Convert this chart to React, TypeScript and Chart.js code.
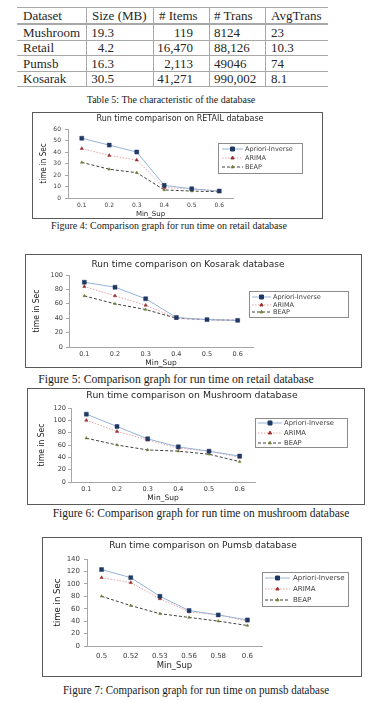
import React, { useEffect, useRef } from 'react';
import { Chart, registerables } from 'chart.js';
import { drawPoint } from 'chart.js/helpers';

Chart.register(...registerables);

// ---------- data ----------
const seriesNames = ['Apriori-Inverse', 'ARIMA', 'BEAP'];
const minSupLabels = ['0.1', '0.2', '0.3', '0.4', '0.5', '0.6'];
const pumsbLabels = ['0.5', '0.52', '0.53', '0.56', '0.58', '0.6'];

const retailApriori = [52, 46, 40, 11, 8, 6];
const retailArima = [43, 37, 33, 9, 8, 6];
const retailBeap = [31, 25, 22, 7, 6, 5.5];

const kosarakApriori = [90, 83, 67, 41, 38, 37];
const kosarakArima = [84, 71, 58, 40, 38, 37];
const kosarakBeap = [71, 60, 52, 40, 38, 37];

const mushroomApriori = [110, 90, 70, 57, 50, 42];
const mushroomArima = [100, 82, 68, 55, 50, 40];
const mushroomBeap = [71, 60, 52, 50, 45, 33];

const pumsbApriori = [123, 110, 80, 57, 50, 42];
const pumsbArima = [110, 102, 76, 55, 50, 40];
const pumsbBeap = [80, 65, 52, 46, 40, 33];

const tableHeader = ['Dataset', 'Size (MB)', '# Items', '# Trans', 'AvgTrans'];
const tableDatasets = ['Mushroom', 'Retail', 'Pumsb', 'Kosarak'];
const tableSizes = ['19.3', '4.2', '16.3', '30.5'];
const tableItems = ['119', '16,470', '2,113', '41,271'];
const tableTrans = ['8124', '88,126', '49046', '990,002'];
const tableAvg = ['23', '10.3', '74', '8.1'];

// ---------- styles ----------
const SANS = "'DejaVu Sans', 'Open Sans', sans-serif";
const NARROW = "'Liberation Sans Narrow', 'DejaVu Sans Condensed', 'Liberation Sans', sans-serif";
const SERIF = "'Liberation Serif', 'Times New Roman', serif";
const AXIS = '#a6a6a6';
const TICK = '#404040';

const seriesStyles = [
  { line: '#95b3d7', dash: [] as number[], point: 'rect', r: 2.8, pc: '#1f3864' },
  { line: '#e8a3a3', dash: [1.5, 1.5], point: 'triangle', r: 1.9, pc: '#9b2d2d' },
  { line: '#404040', dash: [3, 2], point: 'triangle', r: 1.6, pc: '#6b7d2a' },
];

type LegendCfg = { x: number; y: number; w: number; h: number; rows: number[]; size: number; lineStart: number; lineEnd: number; textX: number };
type ChartCfg = {
  box: number[];
  title: string;
  titleX: number;
  titleY: number;
  titleSize: number;
  plot: number[];
  labels: string[];
  series: number[][];
  yMax: number;
  yStep: number;
  tickSize: number;
  axisTitleSize: number;
  xLabelY: number;
  xTitleY: number;
  yLabelRight: number;
  yTitleX: number;
  legend: LegendCfg;
};

const charts: ChartCfg[] = [
  {
    box: [32, 112, 291, 107],
    title: 'Run time comparison on RETAIL database',
    titleX: 180, titleY: 119, titleSize: 8,
    plot: [68, 129, 233, 198],
    labels: minSupLabels,
    series: [retailApriori, retailArima, retailBeap],
    yMax: 60, yStep: 10,
    tickSize: 6, axisTitleSize: 7,
    xLabelY: 205, xTitleY: 214, yLabelRight: 61, yTitleX: 43,
    legend: { x: 218, y: 143, w: 84, h: 30, rows: [149, 158, 167], size: 6.5, lineStart: 4, lineEnd: 25, textX: 27 },
  },
  {
    box: [25, 254, 337, 114],
    title: 'Run time comparison on Kosarak database',
    titleX: 188, titleY: 265, titleSize: 9,
    plot: [69, 275, 253, 347],
    labels: minSupLabels,
    series: [kosarakApriori, kosarakArima, kosarakBeap],
    yMax: 100, yStep: 10,
    tickSize: 6.5, axisTitleSize: 7.5,
    xLabelY: 354, xTitleY: 363, yLabelRight: 63, yTitleX: 36,
    legend: { x: 249, y: 291, w: 99, h: 26, rows: [297, 305, 312], size: 6.5, lineStart: 3, lineEnd: 22, textX: 24 },
  },
  {
    box: [27, 388, 338, 117],
    title: 'Run time comparison on Mushroom database',
    titleX: 192, titleY: 396, titleSize: 9.3,
    plot: [71, 408, 255, 482],
    labels: minSupLabels,
    series: [mushroomApriori, mushroomArima, mushroomBeap],
    yMax: 120, yStep: 20,
    tickSize: 6.5, axisTitleSize: 7.5,
    xLabelY: 489, xTitleY: 498, yLabelRight: 66, yTitleX: 41,
    legend: { x: 255, y: 418, w: 92, h: 29, rows: [423, 433, 443], size: 6.8, lineStart: 3, lineEnd: 27, textX: 29 },
  },
  {
    box: [42, 537, 320, 140],
    title: 'Run time comparison on Pumsb database',
    titleX: 203, titleY: 546, titleSize: 9,
    plot: [87, 559, 262, 646],
    labels: pumsbLabels,
    series: [pumsbApriori, pumsbArima, pumsbBeap],
    yMax: 140, yStep: 20,
    tickSize: 7, axisTitleSize: 8.5,
    xLabelY: 656, xTitleY: 666, yLabelRight: 80, yTitleX: 57,
    legend: { x: 262, y: 572, w: 86, h: 34, rows: [578, 589, 600], size: 7, lineStart: 3, lineEnd: 28, textX: 31 },
  },
];

const captions = [
  { text: 'Table 5: The characteristic of the database', cx: 171, cy: 100, size: 10, sx: 1 },
  { text: 'Figure 4: Comparison graph for run time on retail database', cx: 169, cy: 226, size: 10, sx: 1 },
  { text: 'Figure 5: Comparison graph for run time on retail database', cx: 176, cy: 380, size: 11.7, sx: 1 },
  { text: 'Figure 6: Comparison graph for run time on mushroom database', cx: 201, cy: 513, size: 11.5, sx: 1 },
  { text: 'Figure 7: Comparison graph for run time on pumsb database', cx: 196, cy: 690, size: 12.5, sx: 0.88 },
];

function RunTimeChart({ cfg }: { cfg: ChartCfg }) {
  const ref = useRef<HTMLCanvasElement>(null);
  const [L, T, W, H] = cfg.box;
  const ox = L + 1;
  const oy = T + 1;
  const cw = W - 2;
  const ch = H - 2;

  useEffect(() => {
    const canvas = ref.current;
    if (!canvas) return;
    const [pl, pt, pr, pb] = cfg.plot;
    const plotL = pl - ox;
    const plotT = pt - oy;
    const plotR = pr - ox;
    const plotB = pb - oy;
    const d = cfg.titleX - ox - cw / 2;
    const padL = d > 0 ? 2 * d : 0;
    const padR = d < 0 ? -2 * d : 0;
    const tLh = cfg.titleSize * 1.2;
    const tTop = Math.max(0, cfg.titleY - oy - tLh / 2);
    const tBottom = Math.max(0, plotT - tTop - tLh);
    const tickLen = 3;
    const xTickPad = cfg.xLabelY - oy - plotB - cfg.tickSize * 0.6;
    const xTitlePadB = Math.max(0, ch - (cfg.xTitleY - oy) - cfg.axisTitleSize / 2);
    const yTitlePadT = Math.max(0, cfg.yTitleX - ox - padL - cfg.axisTitleSize / 2);
    const yTickPad = pl - cfg.yLabelRight - tickLen;
    const lg = cfg.legend;

    const legendPlugin = {
      id: 'boxLegend',
      afterDraw(chart: any) {
        const ctx = chart.ctx as CanvasRenderingContext2D;
        const x = lg.x - ox;
        const y = lg.y - oy;
        ctx.save();
        ctx.strokeStyle = '#8c8c8c';
        ctx.lineWidth = 1;
        ctx.setLineDash([]);
        ctx.strokeRect(Math.round(x) + 0.5, Math.round(y) + 0.5, lg.w, lg.h);
        chart.data.datasets.forEach((ds: any, i: number) => {
          const yy = lg.rows[i] - oy;
          ctx.beginPath();
          ctx.strokeStyle = ds.borderColor;
          ctx.lineWidth = ds.borderWidth;
          ctx.setLineDash(ds.borderDash || []);
          ctx.moveTo(x + lg.lineStart, yy);
          ctx.lineTo(x + lg.lineEnd, yy);
          ctx.stroke();
          ctx.setLineDash([]);
          ctx.fillStyle = ds.pointBackgroundColor;
          ctx.strokeStyle = ds.pointBorderColor;
          drawPoint(ctx, { pointStyle: ds.pointStyle, radius: ds.pointRadius, rotation: 0, borderWidth: 0.5 } as any, x + (lg.lineStart + lg.lineEnd) / 2, yy);
          ctx.fillStyle = '#404040';
          ctx.font = `${lg.size}px ${SANS}`;
          ctx.textBaseline = 'middle';
          ctx.textAlign = 'left';
          ctx.fillText(ds.label, x + lg.textX, yy);
        });
        ctx.restore();
      },
    };

    const chart = new Chart(canvas, {
      type: 'line',
      data: {
        labels: cfg.labels,
        datasets: cfg.series.map((vals, i) => ({
          label: seriesNames[i],
          data: vals,
          borderColor: seriesStyles[i].line,
          borderWidth: 1,
          borderDash: seriesStyles[i].dash,
          pointStyle: seriesStyles[i].point as any,
          pointRadius: seriesStyles[i].r,
          pointBackgroundColor: seriesStyles[i].pc,
          pointBorderColor: seriesStyles[i].pc,
          pointBorderWidth: 0.5,
          tension: 0,
          fill: false,
        })),
      },
      options: {
        responsive: false,
        animation: false,
        devicePixelRatio: 1,
        layout: { padding: { left: padL, right: padR, top: 0, bottom: 0 } },
        plugins: {
          legend: { display: false },
          tooltip: { enabled: false },
          title: {
            display: true,
            text: cfg.title,
            color: '#262626',
            font: { family: SANS, size: cfg.titleSize, weight: 'normal', lineHeight: 1.2 },
            padding: { top: tTop, bottom: tBottom },
          },
        },
        scales: {
          x: {
            type: 'category',
            offset: true,
            grid: { display: false, drawTicks: false, tickLength: 0 },
            border: { display: true, color: AXIS, width: 1 },
            ticks: { font: { family: SANS, size: cfg.tickSize }, color: TICK, padding: xTickPad, maxRotation: 0, autoSkip: false },
            title: {
              display: true,
              text: 'Min_Sup',
              color: '#262626',
              font: { family: SANS, size: cfg.axisTitleSize, lineHeight: 1 },
              padding: { top: 0, bottom: xTitlePadB },
            },
            afterFit: (s: any) => { s.height = ch - plotB; },
          },
          y: {
            type: 'linear',
            min: 0,
            max: cfg.yMax,
            ticks: { stepSize: cfg.yStep, font: { family: SANS, size: cfg.tickSize }, color: TICK, padding: yTickPad },
            grid: { display: true, drawOnChartArea: false, drawTicks: true, tickLength: tickLen, color: AXIS },
            border: { display: true, color: AXIS, width: 1 },
            title: {
              display: true,
              text: 'time in Sec',
              color: '#1a1a1a',
              font: { family: NARROW, size: cfg.axisTitleSize + 1, lineHeight: 1 },
              padding: { top: yTitlePadT, bottom: 0 },
            },
            afterFit: (s: any) => { s.width = plotL - padL; },
          },
          y2: {
            type: 'linear',
            position: 'right',
            min: 0,
            max: 1,
            grid: { display: false, drawTicks: false, tickLength: 0 },
            border: { display: false },
            ticks: { display: false },
            afterFit: (s: any) => { s.width = cw - padR - plotR; },
          },
        },
      } as any,
      plugins: [legendPlugin],
    });
    return () => chart.destroy();
  }, [cfg]);

  return (
    <div style={{ position: 'absolute', left: L, top: T, width: W, height: H, boxSizing: 'border-box', border: '1px solid #5a5a5a', background: '#fff' }}>
      <canvas ref={ref} width={cw} height={ch} style={{ position: 'absolute', left: 0, top: 0, width: cw, height: ch }} />
    </div>
  );
}

// Table geometry (page pixels)
const tblLeft = 17;
const tblRight = 328;
const colEdges = [86, 153, 209, 265];
const rowLines = [7, 24, 40, 55, 71, 86];

function DataTable() {
  const lineColor = '#a8a8a8';
  const rows = [tableHeader, ...tableDatasets.map((n, r) => [n, tableSizes[r], tableItems[r], tableTrans[r], tableAvg[r]])];
  const textStyle = (cy: number, left: number, width?: number, align: 'left' | 'right' = 'left'): React.CSSProperties => ({
    position: 'absolute', top: cy - 8, height: 16, lineHeight: '16px', left, width, textAlign: align, whiteSpace: 'nowrap',
  });
  return (
    <div style={{ position: 'absolute', left: 0, top: 0, width: 387, height: 90, fontFamily: SERIF, fontSize: 13, color: '#262626' }}>
      {rowLines.map((y, i) => (
        <div key={'h' + i} style={{ position: 'absolute', left: tblLeft, width: tblRight - tblLeft, top: i === 1 ? y - 1 : y, height: i === 1 ? 2 : 1, background: lineColor }} />
      ))}
      {colEdges.map((x, i) => (
        <div key={'v' + i} style={{ position: 'absolute', left: x, width: 1, top: rowLines[0], height: rowLines[5] - rowLines[0], background: lineColor }} />
      ))}
      {rows.map((cells, r) => {
        const cy = (rowLines[r] + rowLines[r + 1]) / 2 + 0.5;
        const header = r === 0;
        return (
          <React.Fragment key={r}>
            <div style={textStyle(cy, 23)}>{cells[0]}</div>
            {header ? <div style={textStyle(cy, 92)}>{cells[1]}</div> : <div style={textStyle(cy, 86, 28, 'right')}>{cells[1]}</div>}
            {header ? <div style={textStyle(cy, 159)}>{cells[2]}</div> : <div style={textStyle(cy, 153, 40, 'right')}>{cells[2]}</div>}
            <div style={textStyle(cy, 214)}>{cells[3]}</div>
            <div style={textStyle(cy, 271)}>{cells[4]}</div>
          </React.Fragment>
        );
      })}
    </div>
  );
}

export default function App() {
  return (
    <div style={{ position: 'absolute', left: 0, top: 0, width: 387, height: 701, background: '#fff', overflow: 'hidden' }}>
      <DataTable />
      {captions.map((c, i) => (
        <div
          key={i}
          style={{
            position: 'absolute', left: c.cx - 250, top: c.cy - 8, width: 500, height: 16, lineHeight: '16px',
            textAlign: 'center', whiteSpace: 'nowrap', fontFamily: SERIF, fontSize: c.size, color: '#1a1a1a',
            transform: c.sx !== 1 ? `scaleX(${c.sx})` : undefined,
          }}
        >
          {c.text}
        </div>
      ))}
      {charts.map((c, i) => <RunTimeChart key={i} cfg={c} />)}
    </div>
  );
}
